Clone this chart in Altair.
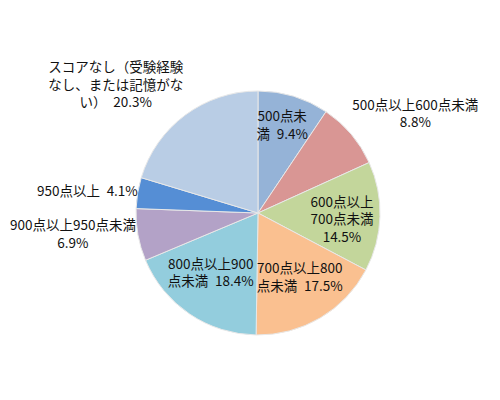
import altair as alt
import pandas as pd

SP = "\u2002"
categories = [
    "500点未満", "500点以上600点未満", "600点以上700点未満", "700点以上800点未満",
    "800点以上900点未満", "900点以上950点未満", "950点以上",
    "スコアなし（受験経験なし、または記憶がない）",
]
values = [9.4, 8.8, 14.5, 17.5, 18.4, 6.9, 4.1, 20.3]
colors = ["#95B3D7", "#D99694", "#C3D69B", "#FAC090", "#93CDDD", "#B3A2C7", "#558ED5", "#B9CDE5"]
label_lines = [
    ["500点未", "満" + SP + "9.4%"],
    ["500点以上600点未満", "8.8%"],
    ["600点以上", "700点未満", "14.5%"],
    ["700点以上800", "点未満" + SP + "17.5%"],
    ["800点以上900", "点未満" + SP + "18.4%"],
    ["900点以上950点未満", "6.9%"],
    ["950点以上" + SP + "4.1%"],
    ["スコアなし（受験経験", "なし、または記憶がな", "い）" + SP + "20.3%"],
]

df = pd.DataFrame({"idx": list(range(len(categories))), "category": categories,
                   "value": values, "label": label_lines})
total = sum(values)

CX, CY = 250, 205
theta_scale = alt.Scale(domain=[0, total])
color_scale = alt.Scale(domain=categories, range=colors)

base = alt.Chart(df)

pie = base.mark_arc(outerRadius=122, stroke="#E8E8E8", strokeWidth=1).encode(
    theta=alt.Theta("value:Q", stack=True, scale=theta_scale),
    color=alt.Color("category:N", scale=color_scale, legend=None),
    order=alt.Order("idx:Q"),
    x=alt.value(CX),
    y=alt.value(CY),
)

# (radius, dx, dy) for each label (anchor = first line)
label_place = [
    (100, -5, 0),
    (180, 20, 9),
    (84, 0, -13),
    (76, 3, -9),
    (72, -7, -8),
    (180, -8, -19),
    (173, 0, 7),
    (170, -41, -8),
]

layers = [pie]
for i, (r, dx, dy) in enumerate(label_place):
    t = base.transform_window(
        cum="sum(value)", sort=[{"field": "idx"}], frame=[None, 0]
    ).transform_calculate(
        mid="datum.cum - datum.value / 2"
    ).transform_filter(
        alt.datum.idx == i
    ).mark_text(
        font="Noto Sans CJK JP", fontSize=13.5, lineHeight=17.5, color="#111111",
        align="center", baseline="middle", dx=dx, dy=dy,
    ).encode(
        theta=alt.Theta("mid:Q", stack=None, scale=theta_scale),
        radius=alt.value(r),
        text="label",
        x=alt.value(CX),
        y=alt.value(CY),
    )
    layers.append(t)

chart = alt.layer(*layers).properties(
    width=480, height=380, padding=0, autosize=alt.AutoSizeParams(type="none")
).configure(background="white").configure_view(stroke=None)

chart.save("out.html", embed_options={"renderer": "svg", "actions": False})
